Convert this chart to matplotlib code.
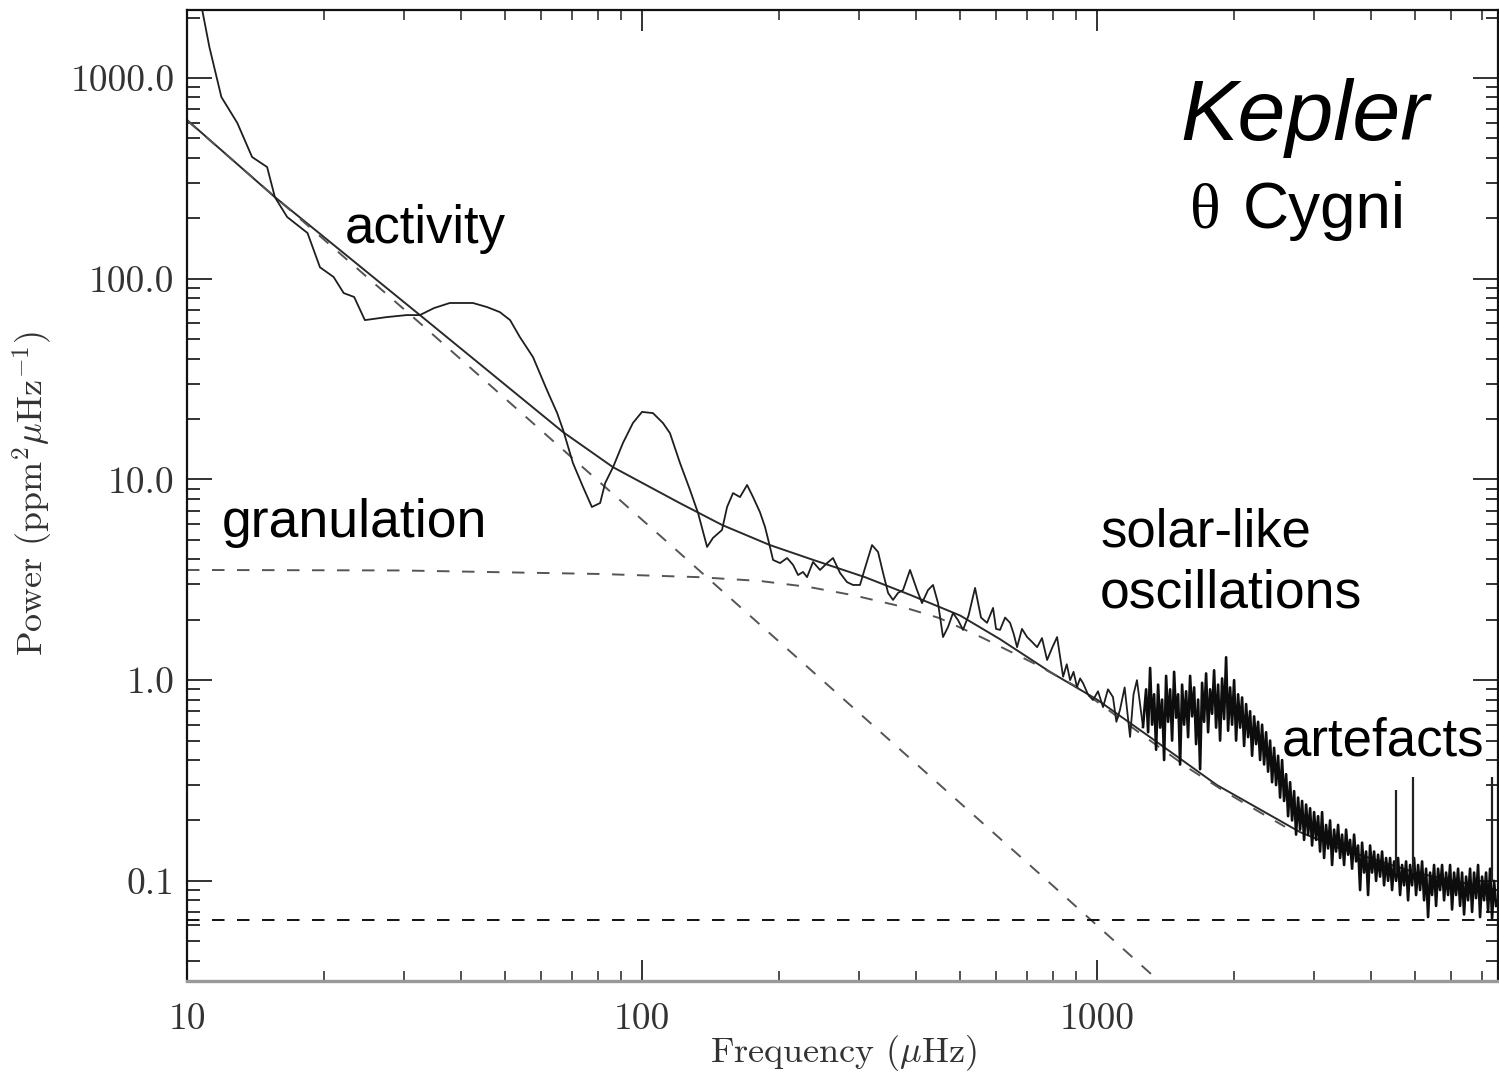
import numpy as np
import matplotlib
matplotlib.use("Agg")
import matplotlib.pyplot as plt
from matplotlib.ticker import FixedLocator, FixedFormatter, LogLocator, NullFormatter

plt.rcParams["mathtext.fontset"] = "cm"
plt.rcParams["lines.scale_dashes"] = False

# ---- power spectrum of theta Cygni (smoothed part, explicit samples) ----
spec_freq = [10.4, 10.8, 11.2, 11.9, 12.9, 13.9, 15.0, 15.6, 16.6, 18.4, 19.6, 21.0,
             22.1, 23.3, 24.6, 27.5, 30.4, 32.5, 34.9, 37.8, 42.5, 45.6, 48.7, 51.3,
             53.9, 57.6, 61.8, 65.1, 67.1, 70.5, 74.2, 77.6, 80.9, 83.0, 86.4, 90.8,
             95.5, 100.0, 105.7, 111.2, 115.2, 121.2, 127.5, 132.8, 139.0, 143.2, 149.9,
             153.8, 158.5, 164.2, 170.2, 175.4, 181.6, 186.4, 191.1, 194.1, 201.1, 208.4,
             214.8, 220.3, 225.9, 230.5, 237.6, 246.2, 255.1, 262.9, 272.4, 282.2, 290.9,
             301.4, 309.1, 320.3, 330.2, 338.7, 347.4, 356.2, 365.3, 374.7, 388.2, 402.2,
             412.5, 425.2, 436.1, 447.3, 458.7, 470.5, 482.5, 495.0, 507.6, 522.0, 539.5,
             556.0, 573.2, 590.9, 600.0, 612.2, 628.0, 644.0, 656.0, 667.3, 684.0, 702.0,
             720.0, 738.5, 757.0, 776.8, 797.0, 817.1, 842.3, 858.0, 872.7, 888.0, 903.6,
             918.0, 931.6, 955.0, 979.9, 1005, 1031, 1057, 1084, 1103, 1123, 1150, 1182,
             1203, 1224, 1262]
spec_power = [2900, 2183, 1426, 804, 597, 404, 360, 255, 203, 169, 114, 102,
              84.8, 81.1, 62.2, 64.4, 65.9, 65.9, 71.4, 75.7, 75.7, 72.3, 68.2, 62.2,
              51.2, 40.7, 27.9, 21.4, 17.6, 12.07, 9.17, 7.29, 7.63, 9.60, 11.53, 15.19,
              19.1, 21.7, 21.4, 19.1, 17.0, 12.07, 8.86, 6.80, 4.61, 5.11, 5.60,
              7.29, 8.55, 8.17, 9.38, 8.17, 6.88, 5.79, 4.61, 3.97, 3.83, 4.06,
              3.75, 3.34, 3.46, 3.26, 3.88, 3.54, 3.83, 4.06, 3.42, 3.08, 2.98,
              2.98, 3.62, 4.71, 4.35, 3.42, 2.72, 2.51, 2.72, 2.81, 3.54, 2.81,
              2.42, 2.81, 2.98, 2.42, 1.64, 1.84, 2.16, 1.99, 1.78, 2.10, 2.88,
              2.05, 1.93, 2.29, 1.80, 1.78, 2.05, 1.93, 1.70, 1.46, 1.80, 1.64,
              1.55, 1.46, 1.62, 1.26, 1.45, 1.64, 1.04, 1.20, 1.00, 1.10, 0.924,
              1.02, 0.967, 0.85, 0.796, 0.88, 0.734, 0.90, 0.824, 0.62, 0.710, 0.92, 0.521,
              0.85, 1.00, 0.584]

# ---- high-frequency part: evenly spaced in log frequency ----
hf_start, hf_stop = 1282.0, 7534.0
hf_power = [0.90, 0.55, 1.15, 0.60, 0.85, 0.45, 0.95, 0.58, 0.80, 0.40,
            1.05, 0.62, 0.90, 0.50, 1.10, 0.65, 0.85, 0.38, 0.95, 0.60,
            0.88, 0.52, 1.05, 0.66, 0.92, 0.48, 0.80, 0.36, 0.97, 0.62,
            1.08, 0.55, 0.90, 0.68, 1.12, 0.58, 0.95, 0.50, 1.02, 0.64,
            1.30, 0.56, 0.92, 0.60, 1.00, 0.50, 0.85, 0.58, 0.82, 0.47,
            0.76, 0.52, 0.70, 0.42, 0.66, 0.48, 0.62,
            0.40, 0.60, 0.38, 0.55, 0.35, 0.50, 0.31, 0.46, 0.30, 0.42,
            0.26, 0.40, 0.25, 0.34, 0.21, 0.31, 0.20, 0.28, 0.17, 0.26,
            0.18, 0.25, 0.16, 0.24, 0.17, 0.23, 0.15, 0.22, 0.16, 0.21,
            0.14, 0.22, 0.13, 0.19, 0.145, 0.20, 0.12, 0.18, 0.14, 0.19,
            0.13, 0.17, 0.12, 0.18, 0.135, 0.16, 0.115, 0.17, 0.125, 0.15,
            0.09, 0.155, 0.11, 0.14, 0.085, 0.15, 0.11, 0.14, 0.10, 0.135,
            0.105, 0.14, 0.095, 0.13, 0.10, 0.13, 0.09, 0.125, 0.10, 0.13,
            0.085, 0.12, 0.095, 0.125, 0.08, 0.12, 0.095, 0.13, 0.085, 0.12,
            0.09, 0.125, 0.08, 0.115, 0.066, 0.11, 0.085, 0.12, 0.075, 0.115,
            0.09, 0.12, 0.08, 0.11, 0.085, 0.12, 0.072, 0.11, 0.085, 0.115,
            0.075, 0.11, 0.068, 0.105, 0.08, 0.115, 0.07, 0.11, 0.082, 0.12,
            0.066, 0.105, 0.08, 0.11, 0.07, 0.115, 0.065, 0.10, 0.075]

# narrow instrumental spikes
artefact_freq = [4540, 4950, 7380]
artefact_peak = [0.283, 0.329, 0.329]
artefact_base = [0.11, 0.11, 0.10]

# ---- fitted background model ----
fit_freq = [10, 15.6, 32.5, 67.1, 86.4, 121, 150, 191, 238, 309, 390, 500, 612,
            788, 1000, 1308, 1835, 2793, 3420, 5000, 7570]
fit_power = [618, 255, 65.9, 17.2, 11.5, 7.63, 5.93, 4.71, 3.97, 3.26, 2.65, 2.10, 1.60,
             1.10, 0.80, 0.52, 0.30, 0.175, 0.145, 0.11, 0.09]

activity_freq = [10, 32.5, 117, 788, 1308, 1600]
activity_power = [615, 60.1, 4.6, 0.0975, 0.0347, 0.0232]

gran_freq = [10, 29.4, 80.9, 133, 181.6, 233, 291, 368, 450, 562, 723, 904, 1068,
             1308, 1601, 1941, 2317, 2590]
gran_power = [3.54, 3.52, 3.38, 3.26, 3.12, 2.91, 2.65, 2.34, 2.04, 1.62, 1.22, 0.924,
              0.70, 0.50, 0.36, 0.272, 0.215, 0.186]

noise_level = 0.064

W, H = 1499, 1072
fig = plt.figure(figsize=(W / 100, H / 100), dpi=100)
ax = fig.add_axes([187 / W, 1 - 981 / H, (1498 - 187) / W, (981 - 10) / H])
ax.set_xscale("log")
ax.set_yscale("log")
ax.set_xlim(10, 7608)
ax.set_ylim(0.0317, 2182)

hf_freq = np.geomspace(hf_start, hf_stop, len(hf_power))
ax.plot(spec_freq, spec_power, color="#1e1e1e", lw=1.3, zorder=3)
ax.plot(np.concatenate([[spec_freq[-1]], hf_freq]),
        np.concatenate([[spec_power[-1]], hf_power]),
        color="#0d0d0d", lw=1.9, zorder=3)
ax.vlines(artefact_freq, artefact_base, artefact_peak, color="#222222", lw=1.6, zorder=3)

ax.plot(fit_freq, fit_power, color="#2a2a2a", lw=1.4, zorder=2)
ax.plot(activity_freq, activity_power, color="#555555", lw=1.4, dashes=(9, 9), zorder=2)
ax.plot(gran_freq, gran_power, color="#555555", lw=1.4, dashes=(9, 9), zorder=2)
ax.axhline(noise_level, color="#111111", lw=1.4, dashes=(9, 9), zorder=2)

# axes styling
serif = "cmr10"
ax.xaxis.set_major_locator(FixedLocator([10, 100, 1000]))
ax.xaxis.set_major_formatter(FixedFormatter(["10", "100", "1000"]))
ax.xaxis.set_minor_locator(LogLocator(base=10, subs=np.arange(2, 10)))
ax.xaxis.set_minor_formatter(NullFormatter())
ax.yaxis.set_major_locator(FixedLocator([0.1, 1, 10, 100, 1000]))
ax.yaxis.set_major_formatter(FixedFormatter(["0.1", "1.0", "10.0", "100.0", "1000.0"]))
ax.yaxis.set_minor_locator(LogLocator(base=10, subs=np.arange(2, 10)))
ax.yaxis.set_minor_formatter(NullFormatter())

ax.tick_params(which="both", direction="in", top=True, right=True, colors="#222222",
               labelcolor="#333333", labelsize=27)
ax.tick_params(axis="x", which="major", length=15, width=1.3, pad=16)
ax.tick_params(axis="x", which="minor", length=7, width=1.1)
ax.tick_params(axis="y", which="major", length=18, width=1.3, pad=9)
ax.tick_params(axis="y", which="minor", length=9, width=1.3)
for lab in ax.get_xticklabels() + ax.get_yticklabels():
    lab.set_fontfamily(serif)

for side in ["left", "top", "right"]:
    ax.spines[side].set_color("#111111")
    ax.spines[side].set_linewidth(1.6)
ax.spines["bottom"].set_color("#999999")
ax.spines["bottom"].set_linewidth(2.4)

ax.set_xlabel(r"Frequency ($\mu$Hz)", fontsize=26, color="#333333", family=serif)
ax.set_ylabel(r"Power (ppm$^2\mu$Hz$^{-1}$)", fontsize=26, color="#333333", family=serif)
ax.xaxis.set_label_coords((844 - 187) / 1311, (981 - 1053) / 971)
ax.xaxis.label.set_va("center")
ax.yaxis.set_label_coords((33 - 187) / 1311, (981 - 493) / 971)
ax.yaxis.label.set_va("center")


def ftext(px, py, s, **kw):
    fig.text(px / W, 1 - py / H, s, va="baseline", ha="left", **kw)


sans = "Liberation Sans"
ftext(345, 243, "activity", fontsize=38, family=sans)
ftext(222, 537, "granulation", fontsize=38.5, family=sans)
ftext(1100, 546, "solar-like", fontsize=38, family=sans)
ftext(1100, 608, "oscillations", fontsize=38.5, family=sans)
ftext(1282, 755, "artefacts", fontsize=38, family=sans)
ftext(1180, 140, "Kepler", fontsize=62, family=sans, style="italic")
ftext(1190, 228, "\u03b8", fontsize=46, family="Liberation Serif")
ftext(1243, 228, "Cygni", fontsize=46, family=sans)

fig.savefig("out.png", dpi=100)
